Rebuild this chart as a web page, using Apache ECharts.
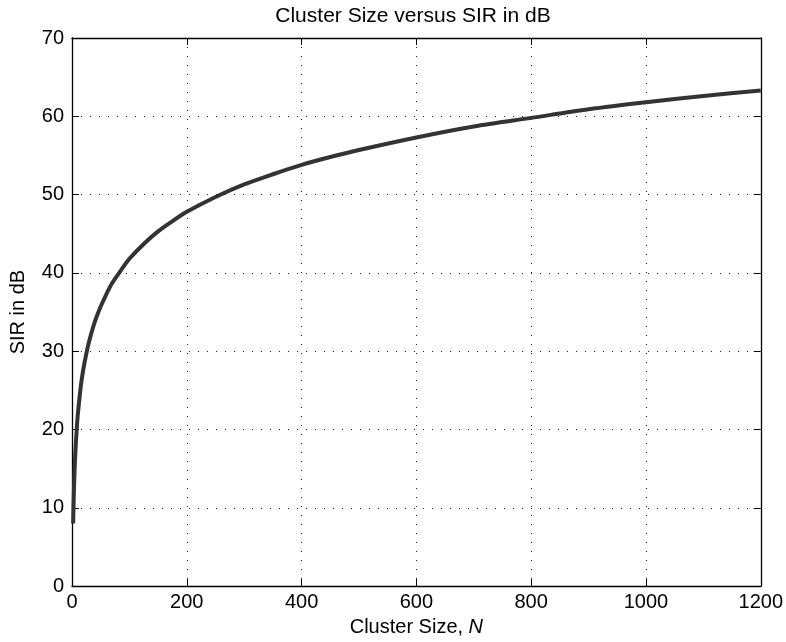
<!DOCTYPE html>
<html><head><meta charset="utf-8">
<script src="https://cdn.jsdelivr.net/npm/echarts@6/dist/echarts.min.js"></script>
<style>html,body{margin:0;padding:0;background:#fff}#c{width:786px;height:642px}</style>
</head><body><div id="c"></div>
<script>
const clusterSize = [2,3,4,5,6,8,10,13,16,20,25,30,40,50,60,70,85,100,125,150,175,200,250,300,350,400,450,500,600,700,800,900,1000,1100,1200];
const sirDb = [8.0,11.3,13.8,15.7,17.3,19.8,21.8,24.0,25.9,27.8,29.7,31.3,33.8,35.7,37.3,38.7,40.3,41.8,43.7,45.3,46.6,47.8,49.7,51.3,52.6,53.8,54.8,55.7,57.3,58.7,59.8,60.9,61.8,62.6,63.3];
const xTicks = [0,200,400,600,800,1000,1200];
const yTicks = [0,10,20,30,40,50,60,70];
const fontFam = 'Liberation Sans, Arial, Helvetica, sans-serif';
const xMin = xTicks[0], xMax = xTicks[xTicks.length-1], xStep = xTicks[1]-xTicks[0];
const yMin = yTicks[0], yMax = yTicks[yTicks.length-1], yStep = yTicks[1]-yTicks[0];
const tick = {show:true,inside:true,length:7,lineStyle:{color:'#000',width:1}};
const dotted = {show:true,showMinLine:false,showMaxLine:false,lineStyle:{color:'#222',type:[1,8],width:1}};
const chart = echarts.init(document.getElementById('c'));
chart.setOption({
  animation:false,
  backgroundColor:'#fff',
  title:{text:'Cluster Size versus SIR in dB',left:408,textAlign:'center',top:1,
    textStyle:{fontFamily:fontFam,fontSize:21,fontWeight:'normal',color:'#000'}},
  grid:{left:68,right:24,top:38,bottom:54,show:false},
  xAxis:[{type:'value',min:xMin,max:xMax,interval:xStep,
    name:'{a|Cluster Size, }{b|N}',nameLocation:'middle',nameGap:29,
    nameTextStyle:{rich:{a:{fontFamily:fontFam,fontSize:20,color:'#000'},b:{fontFamily:fontFam,fontSize:20,fontStyle:'italic',color:'#000'}}},
    axisLine:{show:true,onZero:false,lineStyle:{color:'#000',width:1.3}},
    axisTick:tick,
    axisLabel:{fontFamily:fontFam,fontSize:20,color:'#000',margin:6,formatter:v=>String(v)},
    splitLine:dotted},
   {type:'value',position:'top',min:xMin,max:xMax,interval:xStep,
    axisLine:{show:true,onZero:false,lineStyle:{color:'#000',width:1.3}},
    axisTick:tick,axisLabel:{show:false},splitLine:{show:false}}],
  yAxis:[{type:'value',min:yMin,max:yMax,interval:yStep,
    name:'SIR in dB',nameLocation:'middle',nameGap:44,
    nameTextStyle:{fontFamily:fontFam,fontSize:20,color:'#000'},
    axisLine:{show:true,onZero:false,lineStyle:{color:'#000',width:1.3}},
    axisTick:tick,
    axisLabel:{fontFamily:fontFam,fontSize:20,color:'#000',margin:8},
    splitLine:dotted},
   {type:'value',position:'right',min:yMin,max:yMax,interval:yStep,
    axisLine:{show:true,onZero:false,lineStyle:{color:'#000',width:1.3}},
    axisTick:tick,axisLabel:{show:false},splitLine:{show:false}}],
  series:[{type:'line',xAxisIndex:0,yAxisIndex:0,data:clusterSize.map((x,i)=>[x,sirDb[i]]),showSymbol:false,smooth:0.3,
    lineStyle:{color:'#333',width:4}}]
});
</script></body></html>
